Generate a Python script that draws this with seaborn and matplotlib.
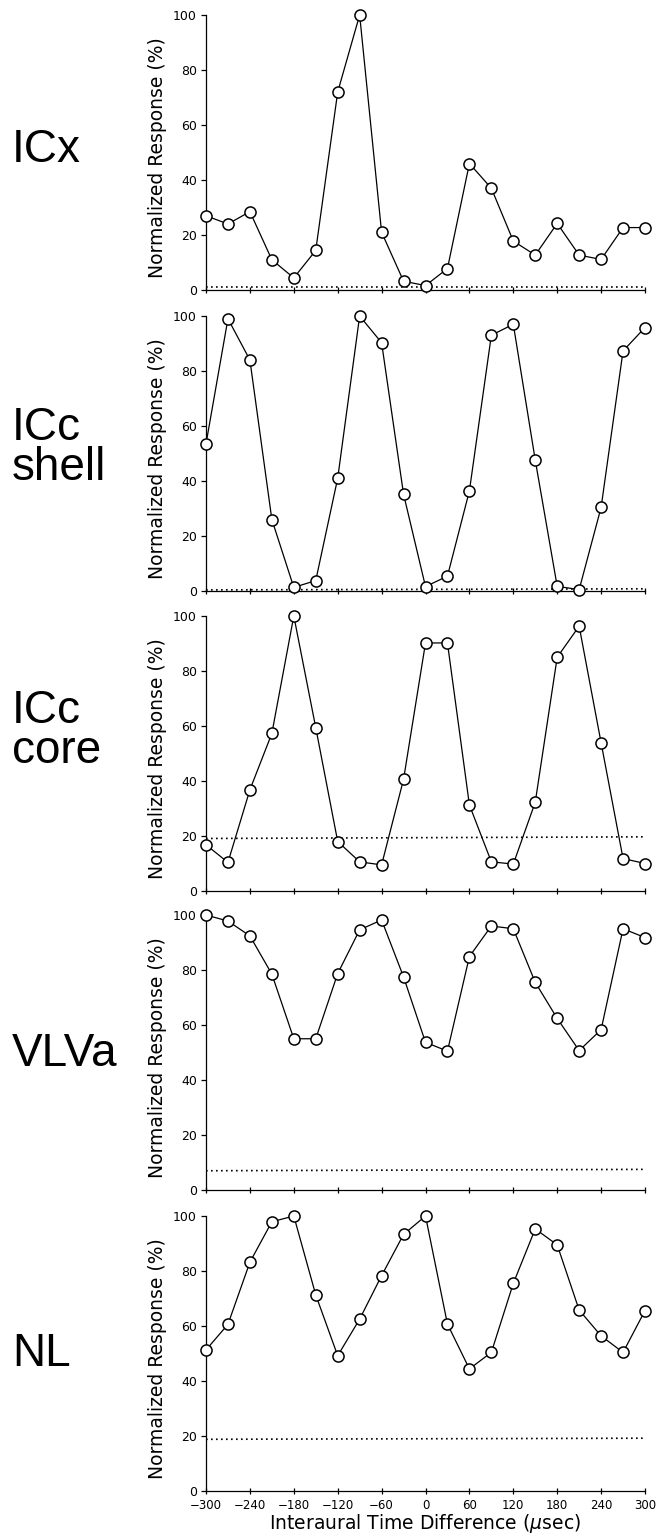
import matplotlib
matplotlib.use("Agg")
import matplotlib.pyplot as plt
import seaborn as sns
import numpy as np
import pandas as pd

# ---------------- data ----------------
itd = [-300, -270, -240, -210, -180, -150, -120, -90, -60, -30, 0,
       30, 60, 90, 120, 150, 180, 210, 240, 270, 300]

regions = ["ICx", "ICc\nshell", "ICc\ncore", "VLVa", "NL"]

icx = [27, 24, 28.5, 11, 4.4, 14.4, 72, 100, 21, 3.2, 1.6,
       7.8, 46, 37, 17.8, 12.7, 24.2, 12.7, 11.1, 22.7, 22.7]
icc_shell = [53.5, 99, 84, 26, 1.3, 3.8, 41, 100, 90.3, 35.2, 1.6,
             5.4, 36.4, 93, 97, 47.6, 1.7, 0.5, 30.4, 87.3, 95.8]
icc_core = [16.8, 10.4, 36.8, 57.3, 100, 59.4, 18, 10.6, 9.5, 40.6, 90.2,
            90.2, 31.3, 10.6, 9.8, 32.3, 85, 96.3, 53.9, 11.8, 10]
vlva = [100, 97.8, 92.4, 78.5, 55, 55, 78.7, 94.6, 98.2, 77.5, 53.7,
        50.5, 84.9, 96, 95, 75.5, 62.4, 50.7, 58.3, 95, 91.8]
nl = [51.3, 60.6, 83.2, 97.9, 100, 71.3, 49.2, 62.5, 78.3, 93.3, 100,
      60.7, 44.4, 50.4, 75.5, 95.3, 89.5, 65.8, 56.4, 50.4, 65.6]

series = [icx, icc_shell, icc_core, vlva, nl]

# spontaneous (baseline) level, left end and right end
baseline_left = [1.2, 0.4, 19.1, 7.0, 18.8]
baseline_right = [1.2, 0.8, 19.7, 7.5, 19.2]

x_ticks = [-300, -240, -180, -120, -60, 0, 60, 120, 180, 240, 300]
y_ticks = [0, 20, 40, 60, 80, 100]

# ---------------- figure ----------------
sns.set_theme(style="ticks")
plt.rcParams["font.family"] = ["DejaVu Sans"]

W, H = 663, 1540
fig = plt.figure(figsize=(W / 100, H / 100), dpi=100)

ax_left_px, ax_right_px = 206, 645
tops = [15, 316, 616, 915, 1216]
ax_h_px = 275
label_centers = [150, 448, 731, 1054, 1354]

for i, (vals, name) in enumerate(zip(series, regions)):
    top = tops[i]
    ax = fig.add_axes([ax_left_px / W, 1 - (top + ax_h_px) / H,
                       (ax_right_px - ax_left_px) / W, ax_h_px / H])
    df = pd.DataFrame({"itd": itd, "resp": vals})
    ax.plot([itd[0], itd[-1]], [baseline_left[i], baseline_right[i]],
            linestyle=(0, (1, 2)), color="black", lw=1.2, zorder=1)
    sns.lineplot(data=df, x="itd", y="resp", ax=ax, color="black",
                 lw=0.9, marker="o", markersize=8,
                 markerfacecolor="white", markeredgecolor="black",
                 markeredgewidth=1.1, clip_on=False, zorder=3)
    ax.set_xlim(-300, 300)
    ax.set_ylim(0, 100)
    ax.set_xticks(x_ticks)
    ax.set_yticks(y_ticks)
    for s in ["top", "right"]:
        ax.spines[s].set_visible(False)
    for s in ["left", "bottom"]:
        ax.spines[s].set_linewidth(0.9)
        ax.spines[s].set_color("black")
    ax.tick_params(axis="y", direction="out", length=3.5, width=0.9,
                   pad=3, labelsize=9, colors="black")
    ax.tick_params(axis="x", direction="inout", length=4, width=0.9,
                   pad=4, labelsize=8.5, colors="black")
    ax.set_ylabel("Normalized Response (%)", fontsize=13.5, color="black")
    ax.yaxis.set_label_coords(-0.089, 0.48)
    if i < len(series) - 1:
        ax.set_xticklabels([])
        ax.set_xlabel("")
    else:
        ax.set_xlabel("Interaural Time Difference ($\\mu$sec)",
                      fontsize=13.5, color="black", labelpad=0)
    fig.text(12 / W, 1 - label_centers[i] / H, name, ha="left", va="center",
             fontsize=33, family=["Liberation Sans", "DejaVu Sans"],
             linespacing=0.87, color="black")

fig.savefig("out.png", dpi=100, facecolor="white")
